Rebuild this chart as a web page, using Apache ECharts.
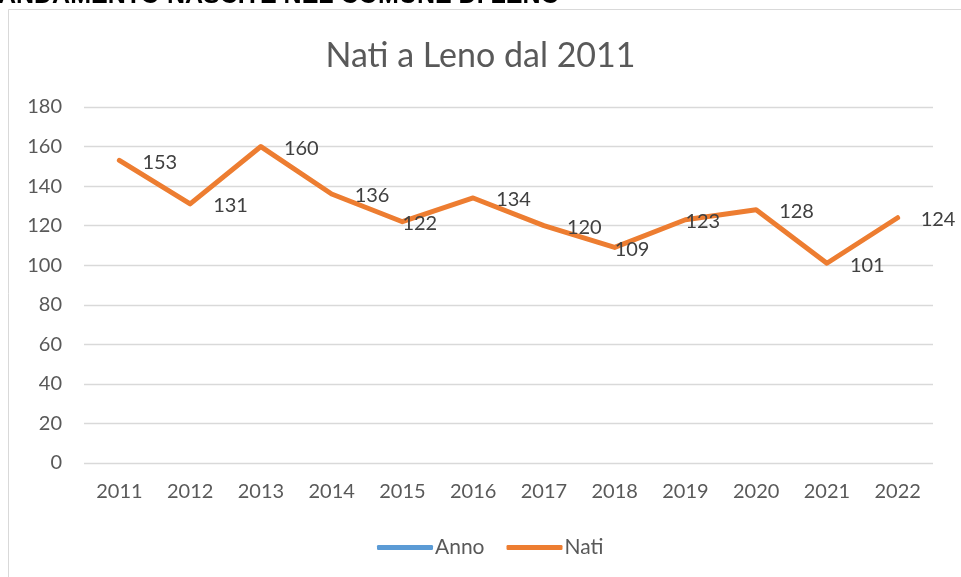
<!DOCTYPE html>
<html>
<head>
<meta charset="utf-8">
<script src="https://cdn.jsdelivr.net/npm/echarts@6/dist/echarts.min.js"></script>
<style>
html,body{margin:0;padding:0;background:#fff;}
#chart{width:961px;height:577px;}
</style>
</head>
<body>
<div id="chart"></div>
<script>
const categories = ['2011','2012','2013','2014','2015','2016','2017','2018','2019','2020','2021','2022'];
const natiValues = [153,131,160,136,122,134,120,109,123,128,101,124];
const annoValues = [];
const chartTitle = 'Nati a Leno dal 2011';
const pageHeading = 'ANDAMENTO NASCITE NEL COMUNE DI LENO';
const yTicks = [0,20,40,60,80,100,120,140,160,180];

const FONT = 'Lato, "Open Sans", sans-serif';
const closeLabels = new Set([4,7,8]);

const chart = echarts.init(document.getElementById('chart'), null, {renderer:'canvas'});
chart.setOption({
  animation:false,
  backgroundColor:'#fff',
  graphic:[
    {type:'rect', z:-1, shape:{x:8.5,y:9.5,width:1000,height:620}, style:{fill:'#fff',stroke:'#d9d9d9',lineWidth:1}},
    {type:'text', x:560, y:9, style:{text:pageHeading, align:'right', verticalAlign:'bottom', font:'bold 25px "Liberation Sans", Arial, sans-serif', fill:'#000'}}
  ],
  title:{
    text:chartTitle, left:'center', top:34,
    textStyle:{fontFamily:FONT, fontSize:34, fontWeight:'normal', color:'#595959'}
  },
  legend:{
    bottom:14, left:372, itemGap:22, itemWidth:56, itemHeight:5, icon:'roundRect',
    textStyle:{fontFamily:FONT, fontSize:21, color:'#595959', padding:[0,0,0,-3]},
    data:['Anno','Nati']
  },
  grid:{left:84, right:28, top:107, bottom:114},
  xAxis:{
    type:'category', data:categories, boundaryGap:true,
    axisLine:{show:false}, axisTick:{show:false},
    axisLabel:{fontFamily:FONT, fontSize:20, color:'#595959', margin:19}
  },
  yAxis:{
    type:'value', min:yTicks[0], max:yTicks[yTicks.length-1], interval:yTicks[1]-yTicks[0],
    axisLine:{show:false}, axisTick:{show:false},
    splitLine:{lineStyle:{color:'#d9d9d9', width:1.3}},
    axisLabel:{fontFamily:FONT, fontSize:20, color:'#595959', margin:22}
  },
  series:[
    {name:'Anno', type:'line', data:annoValues, itemStyle:{color:'#5B9BD5'}, lineStyle:{color:'#5B9BD5', width:5}, showSymbol:false},
    {name:'Nati', type:'line', itemStyle:{color:'#ED7D31'}, lineStyle:{color:'#ED7D31', width:5, cap:'round', join:'round'},
     symbol:'circle', symbolSize:0.01, showSymbol:true,
     data:natiValues.map((v,i)=>({value:v, label:{show:true, distance: closeLabels.has(i) ? 0 : 23}})),
     label:{show:true, position:'right', fontFamily:FONT, fontSize:20, color:'#404040', offset:[0,2]}
    }
  ]
});
</script>
</body>
</html>
